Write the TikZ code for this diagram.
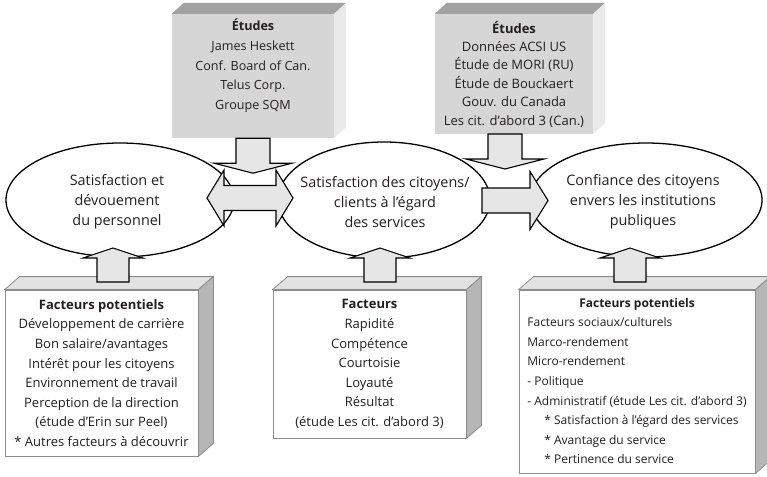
\documentclass[tikz,border=0pt]{standalone}
\usepackage{fontspec}
\setmainfont{Open Sans}
\usepackage{tikz}
\usetikzlibrary{calc,positioning,shapes.geometric}
\definecolor{studyFront}{RGB}{214,214,214}
\definecolor{studyTop}{RGB}{162,162,162}
\definecolor{studySide}{RGB}{234,234,234}
\definecolor{factTop}{RGB}{226,226,226}
\definecolor{factSide}{RGB}{182,182,182}
\definecolor{factEdge}{RGB}{140,140,140}
\definecolor{arrFill}{RGB}{230,230,230}
\definecolor{inkGray}{RGB}{35,31,32}

\begin{document}
\begin{tikzpicture}[x=1pt,y=-1pt,
  font=\fontsize{13}{19.6}\selectfont, text=inkGray,
  studybox/.style={fill=studyFront, inner sep=0pt, align=center},
  factbox/.style={draw=factEdge, line width=0.8pt, fill=white, inner sep=0pt, align=center},
  oval/.style={ellipse, draw=black, line width=1.3pt, fill=white, inner sep=0pt},
  ovaltext/.style={align=center, font=\fontsize{14.4}{20}\selectfont},
  blockarr/.style={draw=black, fill=arrFill, line width=1.1pt, line join=miter}]
\useasboundingbox (0,0) rectangle (767,476);

\node[studybox, minimum width=162, minimum height=124, font=\fontsize{12.6}{19.6}\selectfont] (s1) at (253,76)
  {\textbf{Études}\\James Heskett\\Conf. Board of Can.\\Telus Corp.\\Groupe SQM\\[4pt]};
\node[studybox, minimum width=158, minimum height=120, font=\fontsize{13}{18.4}\selectfont] (s2) at (514,74)
  {\textbf{Études}\\Données ACSI US\\Étude de MORI (RU)\\Étude de Bouckaert\\Gouv. du Canada\\Les cit. d'abord 3 (Can.)};
\foreach \b in {s1,s2}{
  \fill[studyTop] (\b.north west) -- ++(12,-11) -- ([shift={(12,-11)}]\b.north east) -- (\b.north east) -- cycle;
  \fill[studySide] (\b.north east) -- ++(12,-11) -- ([shift={(12,-11)}]\b.south east) -- (\b.south east) -- cycle;
}

\node[factbox, minimum width=193, minimum height=166] (f1) at (101.5,373)
  {\textbf{Facteurs potentiels}\\Développement de carrière\\Bon salaire/avantages\\Intérêt pour les citoyens\\Environnement de travail\\Perception de la direction\\(étude d'Erin sur Peel)\\* Autres facteurs à découvrir};
\node[factbox, minimum width=193, minimum height=148] (f2) at (369.5,364)
  {\textbf{Facteurs}\\Rapidité\\Compétence\\Courtoisie\\Loyauté\\Résultat\\(étude Les cit. d'abord 3)};
\node[factbox, minimum width=236, minimum height=183, font=\fontsize{12}{19.6}\selectfont] (f3) at (637,381.5)
  {\begin{tabular}{@{}l@{}}
   \multicolumn{1}{@{}c@{}}{\textbf{Facteurs potentiels}}\\
   Facteurs sociaux/culturels\\
   Marco-rendement\\
   Micro-rendement\\
   - Politique\\
   - Administratif (étude Les cit. d'abord 3)\\
   \hspace{17pt}* Satisfaction à l'égard des services\\
   \hspace{17pt}* Avantage du service\\
   \hspace{17pt}* Pertinence du service
   \end{tabular}};
\foreach \b in {f1,f2,f3}{
  \filldraw[factTop, draw=factEdge, line width=0.8pt] (\b.north west) -- ++(15,-13) -- ([shift={(15,-13)}]\b.north east) -- (\b.north east) -- cycle;
  \filldraw[factSide, draw=factEdge, line width=0.8pt] (\b.north east) -- ++(15,-13) -- ([shift={(15,-13)}]\b.south east) -- (\b.south east) -- cycle;
}

\node[oval, minimum width=228, minimum height=114] (staff) at (120,200) {};
\node[oval, minimum width=212, minimum height=116] (cit) at (384,200) {};
\node[oval, minimum width=232, minimum height=114] (trust) at (646,200) {};
\node[ovaltext] (staffTxt) at (117,202) {Satisfaction et\\dévouement\\du personnel};
\node[ovaltext] (citTxt) at (385,202) {Satisfaction des citoyens/\\clients à l'égard\\des services};
\node[ovaltext] (trustTxt) at (643,202) {Confiance des citoyens\\envers les institutions\\publiques};

\coordinate (dn1) at (s1.south);
\coordinate (dn2) at (505,134);
\coordinate (dbl) at (250,198);
\coordinate (rgt) at (482,200.5);
\coordinate (up1) at (113,282);
\coordinate (up2) at (380,282);
\coordinate (up3) at (630,282);

\foreach \c in {dn1,dn2}{
  \draw[blockarr] (\c) ++(-17,0) -- ++(0,25) -- ++(-22,0) -- ++(39,10) -- ++(39,-10) -- ++(-22,0) -- ++(0,-25) -- cycle;
}
\draw[blockarr] (dbl) ++(-43,0) -- ++(17,-28) -- ++(0,15.5) -- ++(52,0) -- ++(0,-15.5) -- ++(17,28)
  -- ++(-17,28) -- ++(0,-15.5) -- ++(-52,0) -- ++(0,15.5) -- cycle;
\draw[blockarr] (rgt) ++(0,-12.5) -- ++(48,0) -- ++(0,-16.5) -- ++(18,29) -- ++(-18,29) -- ++(0,-16.5) -- ++(-48,0) -- cycle;
\foreach \c in {up1,up2,up3}{
  \draw[blockarr] (\c) ++(-16,0) -- ++(0,-24) -- ++(-14,0) -- ++(30,-10) -- ++(30,10) -- ++(-14,0) -- ++(0,24) -- cycle;
}
\end{tikzpicture}
\end{document}
